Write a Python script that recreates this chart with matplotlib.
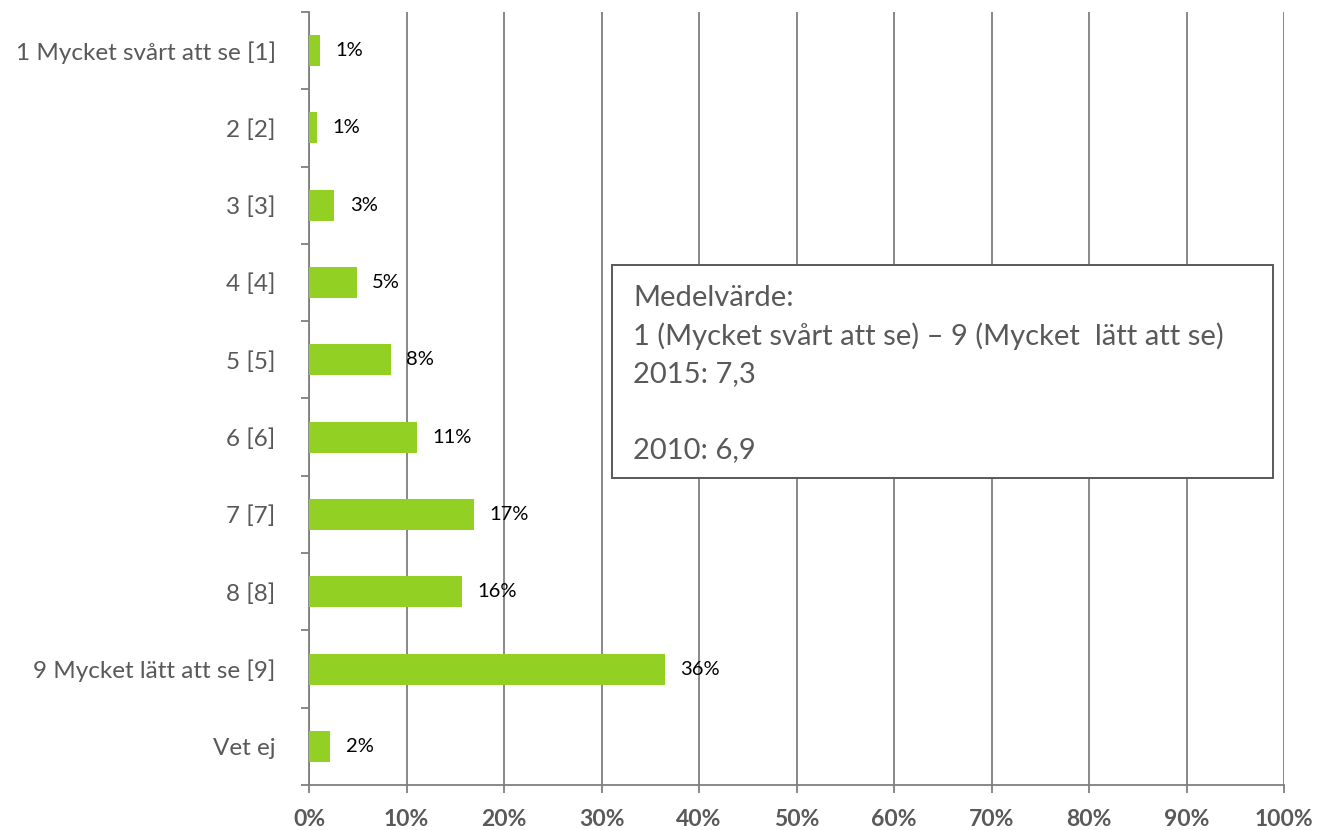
import matplotlib
matplotlib.use("Agg")
import matplotlib.pyplot as plt
import numpy as np
from matplotlib.ticker import FixedLocator, FuncFormatter
from matplotlib.patches import Rectangle

categories = ["1 Mycket svårt att se [1]", "2 [2]", "3 [3]", "4 [4]", "5 [5]",
              "6 [6]", "7 [7]", "8 [8]", "9 Mycket lätt att se [9]", "Vet ej"]
values = [1.1, 0.8, 2.6, 4.9, 8.4, 11.1, 16.9, 15.7, 36.5, 2.2]
value_labels = ["1%", "1%", "3%", "5%", "8%", "11%", "17%", "16%", "36%", "2%"]
x_ticks = [0, 10, 20, 30, 40, 50, 60, 70, 80, 90, 100]
box_lines = ["Medelvärde:",
             "1 (Mycket svårt att se) – 9 (Mycket  lätt att se)",
             "2015: 7,3",
             "",
             "2010: 6,9"]

plt.rcParams['font.family'] = ['Lato', 'DejaVu Sans']
GRAY = '#7f7f7f'
TXT = '#595959'
GREEN = '#93D024'

fig = plt.figure(figsize=(13.18, 8.30), dpi=100)
ax = fig.add_axes([309/1318, 1 - 785/830, (1284 - 309)/1318, (785 - 12)/830])

y = np.arange(len(categories))
ax.barh(y, values, height=0.4, color=GREEN, zorder=3)

for yi, v, lab in zip(y, values, value_labels):
    ax.annotate(lab, xy=(v, yi), xytext=(11, 0), textcoords='offset points',
                ha='left', va='center', fontsize=14.5, color='black', zorder=4)

ax.set_xlim(0, 100)
ax.set_ylim(len(categories) - 0.5, -0.5)

ax.set_xticks(x_ticks)
ax.xaxis.set_major_formatter(FuncFormatter(lambda v, p: f"{int(v)}%"))
ax.tick_params(axis='x', direction='out', length=6, width=1.3, color=GRAY,
               labelsize=16.5, labelcolor=TXT, pad=11)
for t in ax.get_xticklabels():
    t.set_fontweight('bold')
ax.grid(axis='x', color=GRAY, linewidth=1.3, zorder=0)

ax.set_yticks(y)
ax.set_yticklabels(categories)
ax.yaxis.set_minor_locator(FixedLocator(np.arange(-0.5, len(categories), 1.0)))
ax.tick_params(axis='y', which='major', length=0, labelsize=17.5, labelcolor=TXT, pad=24)
ax.tick_params(axis='y', which='minor', direction='out', length=6, width=1.3, color=GRAY)

for s in ['top', 'right']:
    ax.spines[s].set_visible(False)
for s in ['left', 'bottom']:
    ax.spines[s].set_color(GRAY)
    ax.spines[s].set_linewidth(1.3)

# info box
bx0, by0, bx1, by1 = 612, 265, 1273, 478
W, H = 1318, 830
rect = Rectangle((bx0 / W, 1 - by1 / H), (bx1 - bx0) / W, (by1 - by0) / H,
                 transform=fig.transFigure, facecolor='white', edgecolor=TXT,
                 linewidth=1.4, zorder=5)
fig.patches.append(rect)
line_y = [298, 336, 374, 412, 450]
for ly, txt in zip(line_y, box_lines):
    fig.text(633 / W, 1 - ly / H, txt, ha='left', va='center', fontsize=21,
             color=TXT, zorder=6)

fig.savefig("out.png", dpi=100)
